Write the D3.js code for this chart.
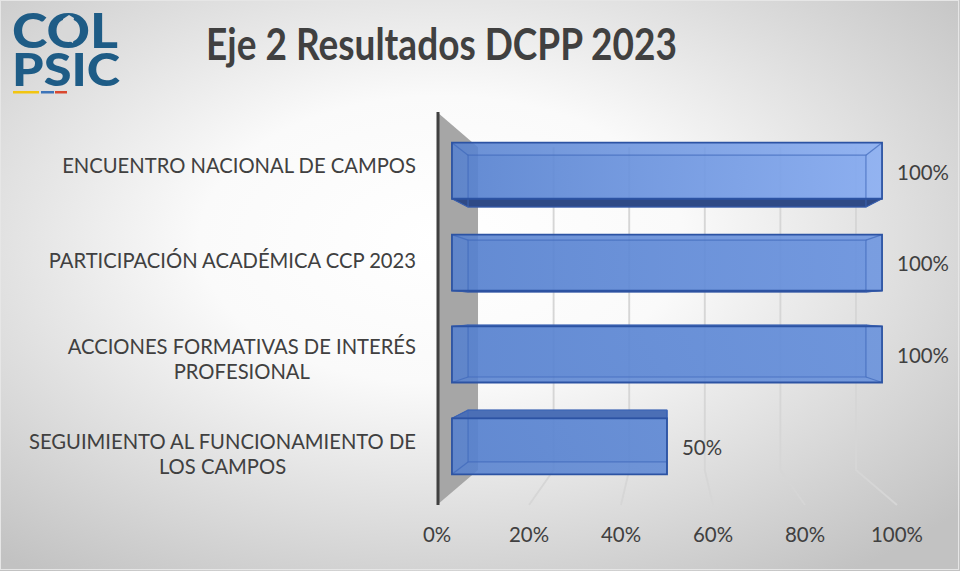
<!DOCTYPE html>
<html>
<head>
<meta charset="utf-8">
<script src="https://cdn.jsdelivr.net/npm/d3@7"></script>
<style>
  body { margin: 0; background: #fff; }
  svg { display: block; }
</style>
</head>
<body>
<div id="chart"></div>
<script>
// data
const title = "Eje 2 Resultados DCPP 2023";
const categories = [
  "ENCUENTRO NACIONAL DE CAMPOS",
  "PARTICIPACIÓN ACADÉMICA CCP 2023",
  "ACCIONES FORMATIVAS DE INTERÉS PROFESIONAL",
  "SEGUIMIENTO AL FUNCIONAMIENTO DE LOS CAMPOS"
];
const categoryLines = [
  ["ENCUENTRO NACIONAL DE CAMPOS"],
  ["PARTICIPACIÓN ACADÉMICA CCP 2023"],
  ["ACCIONES FORMATIVAS DE INTERÉS", "PROFESIONAL"],
  ["SEGUIMIENTO AL FUNCIONAMIENTO DE", "LOS CAMPOS"]
];
const values = [1, 1, 1, 0.5];
const tickValues = [0, 0.2, 0.4, 0.6, 0.8, 1];

const width = 960, height = 571;
const textColor = "#404040";

const svg = d3.select("#chart")
  .append("svg")
  .attr("width", width)
  .attr("height", height);

const defs = svg.append("defs");

// background radial gradient
const bg = defs.append("radialGradient")
  .attr("id", "bg")
  .attr("cx", "46%").attr("cy", "42%").attr("r", "72%");
bg.append("stop").attr("offset", "0%").attr("stop-color", "#ffffff");
bg.append("stop").attr("offset", "35%").attr("stop-color", "#fafafa");
bg.append("stop").attr("offset", "100%").attr("stop-color", "#c2c2c2");

svg.append("rect")
  .attr("width", width).attr("height", height)
  .attr("fill", "url(#bg)");
svg.append("rect")
  .attr("x", 0.5).attr("y", 0.5)
  .attr("width", width - 2).attr("height", height - 2)
  .attr("fill", "none").attr("stroke", "#e6e6e6");

// 3d setup: plane coords get pulled toward a vanishing point by factor s
const VX = 667, VY = 309;
const S_FRONT = 0.935, S_BACK = 0.865, S_WALL = 0.8217;
const proj = (px, py, s) => [VX + (px - VX) * s, VY + (py - VY) * s];

const x = d3.scaleLinear().domain([0, 1]).range([437, 897]);
const y = d3.scaleBand().domain(categories).range([112, 505])
  .paddingInner(0.39).paddingOuter(0.195);

const line = d3.line();

// back wall gridlines + floor gridlines
const grid = svg.append("g");
tickValues.filter(t => t > 0).forEach(t => {
  grid.append("path")
    .attr("d", line([proj(x(t), 112, S_WALL), proj(x(t), 505, S_WALL), proj(x(t), 505, 1)]))
    .attr("fill", "none")
    .attr("stroke", "#d6d6d6")
    .attr("stroke-width", 1.9);
});

// left side wall
svg.append("path")
  .attr("d", line([proj(x(0), 112, 1), proj(x(0), 112, S_WALL),
                   proj(x(0), 505, S_WALL), proj(x(0), 505, 1)]) + "Z")
  .attr("fill", "#a6a6a6");

svg.append("line")
  .attr("x1", x(0) + 1).attr("x2", x(0) + 1)
  .attr("y1", 112).attr("y2", 505)
  .attr("stroke", "#404040")
  .attr("stroke-width", 3);

// bar gradients
const lightEnd = ["#88adf3", "#6b94e0", "#6690dc", "#5f89d5"];
values.forEach((v, i) => {
  const g = defs.append("linearGradient")
    .attr("id", "barGrad" + i)
    .attr("x1", "0%").attr("x2", "100%");
  g.append("stop").attr("offset", "0%").attr("stop-color", "#5681cf");
  g.append("stop").attr("offset", "100%").attr("stop-color", lightEnd[i]);
});

// bars
const bars = svg.append("g");
categories.forEach((c, i) => {
  const v = values[i];
  const y0 = y(c), y1 = y(c) + y.bandwidth();
  const xa = x(0), xb = x(v);
  const F = [proj(xa, y0, S_FRONT), proj(xb, y0, S_FRONT), proj(xb, y1, S_FRONT), proj(xa, y1, S_FRONT)];
  const B = [proj(xa, y0, S_BACK), proj(xb, y0, S_BACK), proj(xb, y1, S_BACK), proj(xa, y1, S_BACK)];
  const g = bars.append("g");

  // back face
  g.append("path").attr("d", line(B) + "Z")
    .attr("fill", "#4f78c6").attr("fill-opacity", 0.35);

  // visible top / bottom face
  if (y0 > VY) {
    g.append("path").attr("d", line([F[0], F[1], B[1], B[0]]) + "Z")
      .attr("fill", "#4b6fb6").attr("stroke", "#2f56a6").attr("stroke-width", 1);
  }
  if (y1 < VY) {
    g.append("path").attr("d", line([F[3], F[2], B[2], B[3]]) + "Z")
      .attr("fill", "#2f4a86").attr("stroke", "#2a4a90").attr("stroke-width", 1);
  }

  // front face
  g.append("path").attr("d", line(F) + "Z")
    .attr("fill", "url(#barGrad" + i + ")")
    .attr("fill-opacity", 0.88);

  // edges seen through the front face
  g.append("path").attr("d", line(B) + "Z")
    .attr("fill", "none").attr("stroke", "#3e68ba").attr("stroke-opacity", 0.7).attr("stroke-width", 1.2);
  [0, 1, 2, 3].forEach(k => {
    g.append("path").attr("d", line([F[k], B[k]]))
      .attr("stroke", "#3e68ba").attr("stroke-opacity", 0.7).attr("stroke-width", 1.2);
  });

  g.append("path").attr("d", line(F) + "Z")
    .attr("fill", "none").attr("stroke", "#2c53a3").attr("stroke-width", 1.8);
});

// texts
const font = "Lato, 'Open Sans', sans-serif";

// fit a font size so a sample string has the wanted width
function fitSize(str, weight, target) {
  const t = svg.append("text").attr("font-family", font).attr("font-weight", weight)
    .attr("font-size", 20).text(str);
  const w = t.node().getComputedTextLength();
  t.remove();
  return 20 * target / w;
}

const labelSize = fitSize("ENCUENTRO NACIONAL DE CAMPOS", 400, 354);
const tickSize = fitSize("100%", 400, 52);
const titleSize = fitSize(title, 700, 471);
const lineH = 25.5;

// category labels
categories.forEach((c, i) => {
  const lines = categoryLines[i];
  const cy = proj(437, y(c) + y.bandwidth() / 2, 0.97)[1] + (lines.length > 1 ? 3 : 0);
  const cap = labelSize * 0.72;
  const firstBase = cy + cap / 2 - (lines.length - 1) * lineH / 2;
  const t = svg.append("text")
    .attr("font-family", font)
    .attr("font-size", labelSize)
    .attr("fill", textColor)
    .attr("text-anchor", "middle");
  // measure widest line to right align the block
  const ws = lines.map(l => {
    const m = svg.append("text").attr("font-family", font).attr("font-size", labelSize).text(l);
    const w = m.node().getComputedTextLength();
    m.remove();
    return w;
  });
  const blockW = d3.max(ws);
  const cx = 416 - blockW / 2;
  lines.forEach((l, k) => {
    t.append("tspan").attr("x", cx).attr("y", firstBase + k * lineH).text(l);
  });
});

// value labels
const fmt = d3.format(".0%");
categories.forEach((c, i) => {
  const yc = (proj(0, y(c), S_FRONT)[1] + proj(0, y(c) + y.bandwidth(), S_FRONT)[1]) / 2;
  svg.append("text")
    .attr("x", proj(x(values[i]), 0, S_FRONT)[0] + 15)
    .attr("y", yc + tickSize * 0.72 / 2 + 1.5)
    .attr("font-family", font)
    .attr("font-size", tickSize)
    .attr("fill", textColor)
    .text(fmt(values[i]));
});

// axis tick labels
svg.append("g")
  .selectAll("text")
  .data(tickValues)
  .join("text")
  .attr("x", d => x(d))
  .attr("y", 542)
  .attr("text-anchor", "middle")
  .attr("font-family", font)
  .attr("font-size", tickSize)
  .attr("fill", textColor)
  .text(d => fmt(d));

// title (Calibri is narrower than Lato, so stretch it up a little)
svg.append("text")
  .attr("transform", "translate(441.5,60) scale(1,1.2)")
  .attr("text-anchor", "middle")
  .attr("font-family", font)
  .attr("font-weight", 700)
  .attr("font-size", titleSize)
  .attr("fill", textColor)
  .text(title);

// logo
const logo = svg.append("g");
const logoBlue = "#1e5c86";
logo.append("text")
  .attr("x", 12).attr("y", 48)
  .attr("font-family", font).attr("font-weight", 900).attr("font-size", 47)
  .attr("textLength", 106).attr("lengthAdjust", "spacingAndGlyphs")
  .attr("fill", logoBlue).text("COL");
logo.append("path")
  .attr("d", line([[63, 19], [69, 15], [74, 18], [73, 23], [79, 26], [78, 33], [74, 36], [73, 43], [68, 40], [63, 37], [61, 29], [63, 24]]) + "Z")
  .attr("fill", "#d8d8d8");
logo.append("text")
  .attr("x", 12).attr("y", 86)
  .attr("font-family", font).attr("font-weight", 900).attr("font-size", 46)
  .attr("textLength", 108).attr("lengthAdjust", "spacingAndGlyphs")
  .attr("fill", logoBlue).text("PSIC");
[[13, 39, "#f2c511"], [41, 54, "#3d74b8"], [55, 67, "#d9482f"]].forEach(s => {
  logo.append("rect").attr("x", s[0]).attr("y", 91).attr("width", s[1] - s[0]).attr("height", 2.5).attr("fill", s[2]);
});
</script>
</body>
</html>
